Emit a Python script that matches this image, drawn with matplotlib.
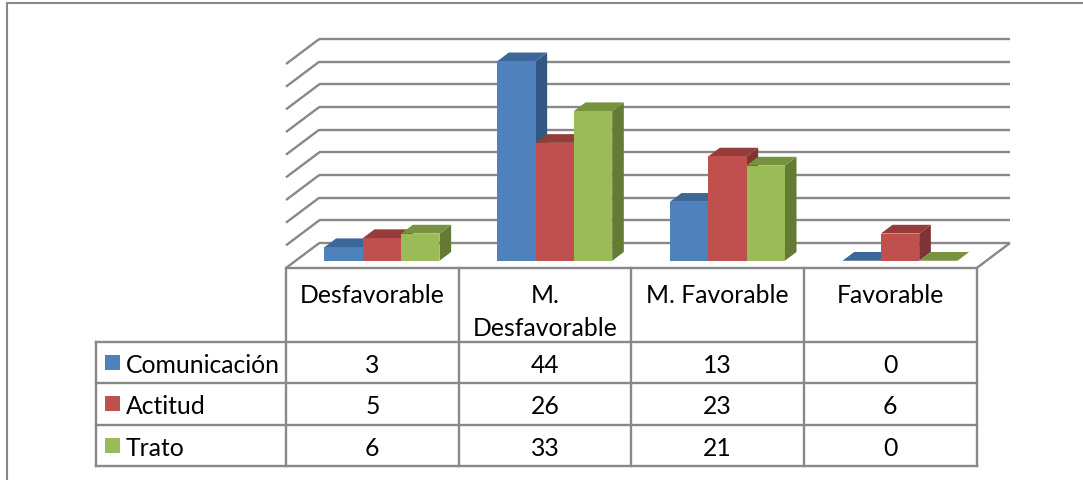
import matplotlib
matplotlib.use('Agg')
import matplotlib.pyplot as plt
from matplotlib.patches import Polygon, Rectangle

# categories and series
categories = ['Desfavorable', 'M.\nDesfavorable', 'M. Favorable', 'Favorable']
series = ['Comunicación', 'Actitud', 'Trato']
comunicacion = [3, 44, 13, 0]
actitud = [5, 26, 23, 6]
trato = [6, 33, 21, 0]
values = [comunicacion, actitud, trato]

front_colors = ['#4F81BD', '#C0504D', '#9BBB59']
top_colors = ['#3C6797', '#943C3A', '#78933F']
side_colors = ['#335783', '#7E3432', '#647B34']
line_color = '#888888'

plt.rcParams['font.family'] = ['Lato', 'DejaVu Sans']
W, H = 1083, 481
fig = plt.figure(figsize=(W / 100, H / 100), dpi=100)

# back wall of the 3d box, in pixels
wall_left, wall_right = 319.3, 1010.0
wall_bottom, wall_top = 244.0, 40.0
depth_dx, depth_dy = 33.3, 25.0
ymax = 45

ax = fig.add_axes([wall_left / W, 1 - wall_bottom / H,
                   (wall_right - wall_left) / W, (wall_bottom - wall_top) / H])
ax.set_xlim(0, 4)
ax.set_ylim(0, ymax)
ax.axis('off')

cat_px = (wall_right - wall_left) / 4
unit_px = (wall_bottom - wall_top) / ymax
DX = depth_dx / cat_px
DY = depth_dy / unit_px


def proj(x, v, d):
    # oblique projection: d=0 is the back wall, d=1 the front edge
    return (x - d * DX, v - d * DY)


def line(p, q, **kw):
    ax.plot([p[0], q[0]], [p[1], q[1]], color=line_color, lw=1.7,
            clip_on=False, solid_capstyle='butt', zorder=1, **kw)


# gridlines on back wall and left wall
for v in range(0, ymax + 1, 5):
    line((0, v), (4, v))
    line(proj(0, v, 0), proj(0, v, 1))
# floor edges
line(proj(0, 0, 1), proj(4, 0, 1))
line(proj(4, 0, 1), proj(4, 0, 0))

# bars
bar_w = 0.222
gap = (1 - 3 * bar_w) / 2
d_front, d_back = 0.71, 0.36
z = 2
for i in range(len(categories)):
    for s in range(len(series)):
        v = values[s][i]
        x0 = i + gap + s * bar_w
        x1 = x0 + bar_w
        side = [proj(x1, 0, d_front), proj(x1, 0, d_back),
                proj(x1, v, d_back), proj(x1, v, d_front)]
        top = [proj(x0, v, d_front), proj(x1, v, d_front),
               proj(x1, v, d_back), proj(x0, v, d_back)]
        front = [proj(x0, 0, d_front), proj(x1, 0, d_front),
                 proj(x1, v, d_front), proj(x0, v, d_front)]
        for pts, c in ((side, side_colors[s]), (top, top_colors[s]),
                       (front, front_colors[s])):
            ax.add_patch(Polygon(pts, closed=True, fc=c, ec='none',
                                 clip_on=False, zorder=z))
            z += 1

# data table under the plot
front_x0 = wall_left - depth_dx
legend_w = (front_x0 - 95.7) / cat_px
table_top = wall_bottom + depth_dy
table_bottom = 466.7
tax = fig.add_axes([(front_x0 - legend_w * cat_px) / W, 1 - table_bottom / H,
                    (legend_w + 4) * cat_px / W, (table_bottom - table_top) / H])
head = 1.8
nrows = len(series)
tax.set_xlim(-legend_w, 4)
tax.set_ylim(head + nrows, 0)
tax.axis('off')

tl = dict(color=line_color, lw=1.7, clip_on=False, solid_capstyle='projecting')
for i in range(5):
    tax.plot([i, i], [0, head + nrows], **tl)
tax.plot([-legend_w, -legend_w], [head, head + nrows], **tl)
for r in range(nrows + 1):
    tax.plot([-legend_w, 4], [head + r, head + r], **tl)

row_px = (table_bottom - table_top) / (head + nrows)
fs = 17.8
for i, cat in enumerate(categories):
    for k, part in enumerate(cat.split('\n')):
        tax.text(i + 0.5, (34 + 32.7 * k) / row_px, part, ha='center',
                 va='baseline', fontsize=fs, color='black')

sq = 15 / row_px
for s, name in enumerate(series):
    yc = head + s + 0.5
    tax.add_patch(Rectangle((-legend_w + 9.3 / cat_px, yc - sq / 2),
                            15 / cat_px, sq, fc=front_colors[s], ec='none'))
    tax.text(-legend_w + 30 / cat_px, yc, name, ha='left', va='center_baseline',
             fontsize=fs, color='black')
    for i in range(len(categories)):
        tax.text(i + 0.5, yc, str(values[s][i]), ha='center',
                 va='center_baseline', fontsize=fs, color='black')

# outer chart border
fig.add_artist(Rectangle((6.5 / W, -0.1), 1.2, 1.1 - 4.3 / H,
                         transform=fig.transFigure, fill=False,
                         ec=line_color, lw=1.5))

fig.savefig('out.png', dpi=100)
